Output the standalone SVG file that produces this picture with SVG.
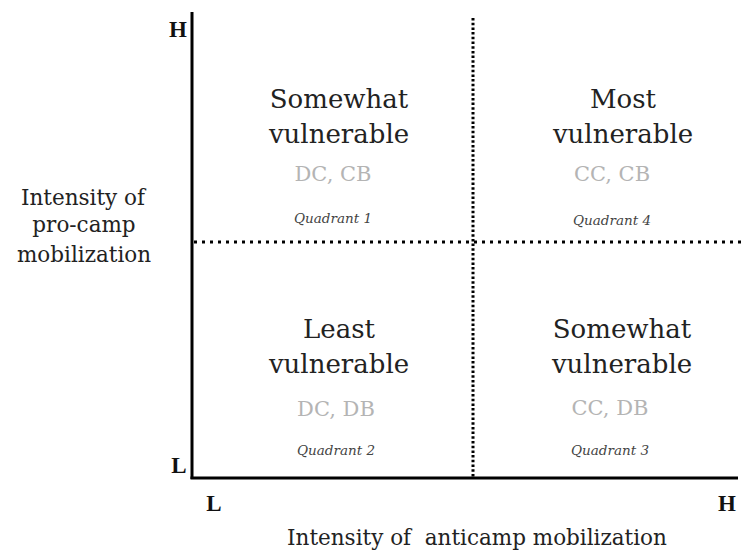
<svg xmlns="http://www.w3.org/2000/svg" width="743" height="551" viewBox="0 0 743 551">
<style>
text{font-family:"DejaVu Serif","Liberation Serif",serif;text-anchor:middle}
.main{font-size:26px;fill:#222}
.code{font-size:21px;fill:#b4b4b4}
.quad{font-size:13.5px;font-style:italic;fill:#444}
.axis{font-size:21.5px;fill:#222}
.tick{font-family:"Liberation Serif",serif;font-size:23px;font-weight:bold;fill:#111}
.ax{stroke:#000;stroke-width:3;fill:none}
.dotv{stroke:#000;stroke-width:3;stroke-dasharray:2.5 2.2;fill:none}
.doth{stroke:#000;stroke-width:3;stroke-dasharray:3 5;fill:none}
</style>
<rect width="743" height="551" fill="#fff"/>
<g id="connectors">
<line class="dotv" x1="473" y1="18" x2="473" y2="477"/>
<line class="doth" x1="194" y1="242" x2="743" y2="242"/>
<line class="ax" x1="192" y1="12" x2="192" y2="479"/>
<line class="ax" x1="190.5" y1="478" x2="738" y2="478"/>
</g>
<g id="q1">
<text class="main" x="339" y="108">Somewhat</text>
<text class="main" x="339" y="143">vulnerable</text>
<text class="code" x="333" y="181">DC, CB</text>
<text class="quad" x="333" y="223">Quadrant 1</text>
</g>
<g id="q4">
<text class="main" x="623" y="108">Most</text>
<text class="main" x="623" y="143">vulnerable</text>
<text class="code" x="612" y="181">CC, CB</text>
<text class="quad" x="612" y="225">Quadrant 4</text>
</g>
<g id="q2">
<text class="main" x="339" y="338">Least</text>
<text class="main" x="339" y="373">vulnerable</text>
<text class="code" x="336" y="416">DC, DB</text>
<text class="quad" x="336" y="455">Quadrant 2</text>
</g>
<g id="q3">
<text class="main" x="622" y="338">Somewhat</text>
<text class="main" x="622" y="373">vulnerable</text>
<text class="code" x="610" y="415">CC, DB</text>
<text class="quad" x="610" y="455">Quadrant 3</text>
</g>
<g id="ylabel">
<text class="axis" x="83" y="205">Intensity of</text>
<text class="axis" x="84" y="232">pro-camp</text>
<text class="axis" x="84" y="262">mobilization</text>
</g>
<g id="xlabel">
<text class="axis" x="477" y="545" xml:space="preserve">Intensity of  anticamp mobilization</text>
</g>
<g id="ticks">
<text class="tick" x="178" y="37">H</text>
<text class="tick" x="179" y="473">L</text>
<text class="tick" x="214" y="511">L</text>
<text class="tick" x="727" y="511">H</text>
</g>
</svg>
